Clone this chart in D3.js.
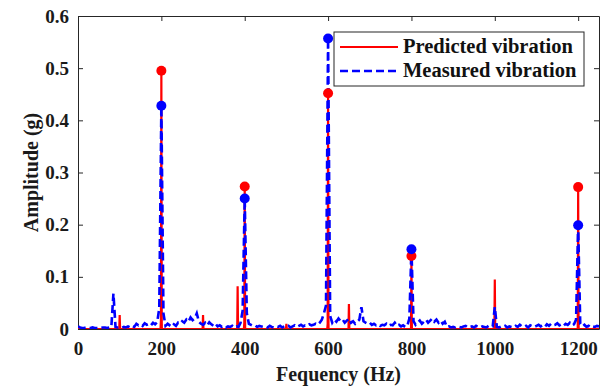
<!DOCTYPE html>
<html>
<head>
<meta charset="utf-8">
<script src="https://cdn.jsdelivr.net/npm/d3@7"></script>
<style>
  body { margin: 0; background: #fff; }
  text { font-family: "Liberation Serif", "Times New Roman", serif; font-weight: bold; }
</style>
</head>
<body>
<div id="chart_div"></div>
<script>
// harmonic peaks (Hz) with marker values
const harmonics = [200, 400, 600, 800, 1200];
const predPeak = [0.495, 0.273, 0.452, 0.140, 0.272];
const measPeak = [0.428, 0.250, 0.557, 0.153, 0.199];

// predicted spectrum: mostly zero with narrow lines
const predFreq = [0, 99, 100, 101, 198, 199, 200, 201, 299, 300, 301, 382, 383, 384, 398, 399, 400, 401,
  499, 500, 501, 598, 599, 600, 601, 649, 650, 651, 799, 800, 801, 999, 1000, 1001, 1199, 1200, 1201, 1250];
const predAmp = [0, 0, 0.027, 0, 0, 0.018, 0.495, 0, 0, 0.027, 0, 0, 0.082, 0, 0, 0.012, 0.273, 0,
  0, 0.010, 0, 0, 0.010, 0.452, 0, 0, 0.048, 0, 0, 0.140, 0, 0, 0.095, 0, 0, 0.272, 0, 0];

// measured spectrum, read every 5 Hz from 0 to 1250
const measStep = 5;
const measAmp = [
  0.005,0.003,0.002,0.002,0.003,0.002,0.002,0.003,0.002,0.002,
  0.002,0.002,0.003,0.003,0.002,0.003,0.004,0.068,0.004,0.003,
  0.003,0.002,0.004,0.003,0.005,0.003,0.006,0.004,0.010,0.007,
  0.009,0.006,0.011,0.008,0.010,0.007,0.012,0.009,0.013,0.040,
  0.428,0.030,0.006,0.010,0.007,0.004,0.009,0.006,0.012,0.010,
  0.015,0.012,0.018,0.014,0.022,0.017,0.020,0.030,0.014,0.010,
  0.008,0.012,0.007,0.013,0.009,0.006,0.010,0.005,0.007,0.004,
  0.006,0.003,0.005,0.004,0.006,0.003,0.005,0.004,0.012,0.035,
  0.250,0.030,0.010,0.008,0.006,0.007,0.004,0.006,0.005,0.004,
  0.005,0.003,0.006,0.004,0.003,0.005,0.004,0.006,0.003,0.005,
  0.004,0.006,0.003,0.005,0.007,0.004,0.006,0.008,0.005,0.007,
  0.006,0.009,0.007,0.008,0.010,0.008,0.012,0.018,0.030,0.045,
  0.557,0.025,0.012,0.018,0.014,0.020,0.015,0.018,0.012,0.016,
  0.020,0.012,0.015,0.010,0.014,0.018,0.042,0.015,0.012,0.010,
  0.012,0.008,0.010,0.007,0.009,0.006,0.008,0.007,0.010,0.006,
  0.008,0.007,0.012,0.006,0.008,0.005,0.007,0.004,0.006,0.020,
  0.153,0.015,0.008,0.012,0.016,0.010,0.014,0.018,0.012,0.016,
  0.020,0.014,0.018,0.012,0.016,0.010,0.014,0.004,0.005,0.003,
  0.004,0.003,0.005,0.004,0.003,0.005,0.006,0.003,0.004,0.005,
  0.003,0.006,0.004,0.003,0.005,0.004,0.003,0.006,0.004,0.005,
  0.042,0.004,0.003,0.005,0.004,0.006,0.003,0.005,0.004,0.003,
  0.006,0.004,0.008,0.005,0.004,0.006,0.003,0.007,0.005,0.004,
  0.006,0.008,0.005,0.007,0.004,0.009,0.006,0.010,0.007,0.008,
  0.011,0.007,0.009,0.006,0.010,0.008,0.012,0.007,0.009,0.018,
  0.199,0.010,0.005,0.008,0.004,0.006,0.003,0.005,0.004,0.006,0.005
];

const xTicks = [0, 200, 400, 600, 800, 1000, 1200];
const yTicks = [0, 0.1, 0.2, 0.3, 0.4, 0.5, 0.6];
const seriesNames = ["Predicted vibration", "Measured vibration"];

// set the dimensions and margins of the graph
const margin = {top: 16, right: 1, bottom: 62, left: 78},
    width = 600 - margin.left - margin.right,
    height = 391 - margin.top - margin.bottom;

const svg = d3.select("#chart_div")
  .append("svg")
    .attr("width", 600)
    .attr("height", 391)
  .append("g")
    .attr("transform", `translate(${margin.left}, ${margin.top})`);

const x = d3.scaleLinear().domain([0, 1250]).range([0, width]);
const y = d3.scaleLinear().domain([0, 0.6]).range([height, 0]);

const axisColor = "#262626";

// axes with inward ticks (box style), drawn under the data
const fmtY = d => d === 0 ? "0" : d3.format(".1f")(d);
svg.append("g")
  .attr("transform", `translate(0, ${height})`)
  .call(d3.axisBottom(x).tickValues(xTicks).tickFormat(d3.format("d")).tickSizeInner(-5).tickSizeOuter(0).tickPadding(13));
svg.append("g")
  .call(d3.axisLeft(y).tickValues(yTicks).tickFormat(fmtY).tickSizeInner(-5).tickSizeOuter(0).tickPadding(9));
svg.append("g")
  .call(d3.axisTop(x).tickValues(xTicks).tickFormat("").tickSizeInner(-5).tickSizeOuter(0));
svg.append("g")
  .attr("transform", `translate(${width}, 0)`)
  .call(d3.axisRight(y).tickValues(yTicks).tickFormat("").tickSizeInner(-5).tickSizeOuter(0));

svg.selectAll(".domain, .tick line").attr("stroke", axisColor).attr("stroke-width", 1);
svg.selectAll(".tick text")
  .attr("fill", "#1a1a1a")
  .style("font-family", "'Liberation Serif', serif")
  .style("font-weight", "bold")
  .style("font-size", "19px");

svg.append("clipPath").attr("id", "clip")
  .append("rect").attr("x", 0).attr("y", -8).attr("width", width).attr("height", height + 8);

const predData = predFreq.map((f, i) => [f, predAmp[i]]);
const measData = measAmp.map((v, i) => [i * measStep, v]);
const line = d3.line().x(d => x(d[0])).y(d => y(d[1]));

const plot = svg.append("g").attr("clip-path", "url(#clip)");

// predicted (solid red)
plot.append("path")
  .datum(predData)
  .attr("d", line)
  .attr("fill", "none")
  .attr("stroke", "#ff0000")
  .attr("stroke-width", 2.2);

// measured (dashed blue)
plot.append("path")
  .datum(measData)
  .attr("d", line)
  .attr("fill", "none")
  .attr("stroke", "#0000ff")
  .attr("stroke-width", 2.6)
  .attr("stroke-dasharray", "8,4");

// markers
plot.selectAll(".pred-dot")
  .data(harmonics)
  .join("circle")
    .attr("cx", d => x(d))
    .attr("cy", (d, i) => y(predPeak[i]))
    .attr("r", 5)
    .attr("fill", "#ff0000");

svg.selectAll(".meas-dot")
  .data(harmonics)
  .join("circle")
    .attr("cx", d => x(d))
    .attr("cy", (d, i) => y(measPeak[i]))
    .attr("r", 5)
    .attr("fill", "#0000ff");

// axis titles
svg.append("text")
  .attr("text-anchor", "middle")
  .attr("x", width / 2)
  .attr("y", height + 52)
  .attr("fill", "#1a1a1a")
  .style("font-size", "20px")
  .text("Fequency (Hz)");

svg.append("text")
  .attr("text-anchor", "middle")
  .attr("transform", `translate(${-40}, ${height / 2}) rotate(-90)`)
  .attr("fill", "#1a1a1a")
  .style("font-size", "20px")
  .text("Amplitude (g)");

// legend
const legend = svg.append("g").attr("transform", `translate(${334 - margin.left}, ${32 - margin.top})`);
legend.append("rect")
  .attr("width", 250).attr("height", 54)
  .attr("fill", "#fff").attr("stroke", axisColor).attr("stroke-width", 1);
const legendStyles = [
  {color: "#ff0000", dash: null, w: 2.2},
  {color: "#0000ff", dash: "8,4", w: 2.6}
];
seriesNames.forEach((name, i) => {
  const ly = 15 + i * 24;
  legend.append("line")
    .attr("x1", 6).attr("x2", 64).attr("y1", ly).attr("y2", ly)
    .attr("stroke", legendStyles[i].color)
    .attr("stroke-width", legendStyles[i].w)
    .attr("stroke-dasharray", legendStyles[i].dash);
  legend.append("text")
    .attr("x", 69).attr("y", ly + 6)
    .attr("fill", "#111")
    .style("font-size", "20.5px")
    .text(name);
});
</script>
</body>
</html>
